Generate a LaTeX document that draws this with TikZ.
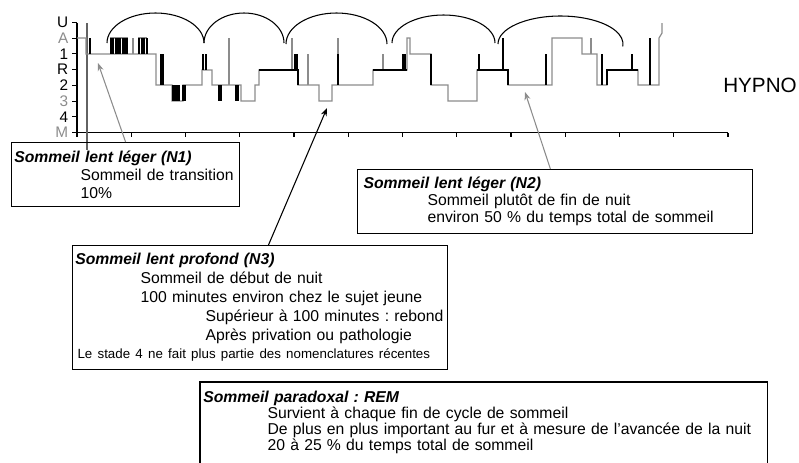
\documentclass[tikz,border=0pt]{standalone}
\usepackage{fontspec}
\setmainfont{Liberation Sans}
\usetikzlibrary{arrows.meta}
\definecolor{hgray}{gray}{0.55}

\begin{document}
\frenchspacing
\begin{tikzpicture}[x=0.75pt,y=-0.75pt,
    box/.style={draw,line width=0.9pt,anchor=north west,align=left,inner xsep=2pt,inner ysep=0pt},
    trace/.style={hgray,line width=0.9pt},
    bar/.style={black,line width=0.8pt},
    remline/.style={black,line width=1.6pt},
    tip/.style={-{Stealth[length=6pt,width=4.5pt]},line width=0.8pt}]

        \useasboundingbox (0,0) rectangle (799,462);
        \clip (0,0) rectangle (799,462);

        % axes
        \draw[line width=0.8pt] (77,22.5) -- (77,132.5) -- (728,132.5);
        \foreach \lab/\col [count=\i from 0] in {U/black,A/hgray,1/black,R/black,2/black,3/hgray,4/black,M/hgray}{
            \draw[line width=0.8pt] (72,22.5+\i*15.71) -- (77,22.5+\i*15.71);
            \node[anchor=east,inner sep=0pt,text=\col,font=\fontsize{11.5}{12}\selectfont] (l\lab) at (68.5,22.5+\i*15.71) {\lab};
        }
        \foreach \k in {0,...,12}
            \draw[line width=0.8pt] (77+\k*54.25,132.5) -- (77+\k*54.25,137);

        % hypnogramme
        \draw[line width=0.8pt,hgray!70!black] (87,23) -- (87,150);
        \draw[trace] (77,38) -- (86,38) -- (86,54) -- (156,54) -- (156,85) -- (172,85) -- (172,101) -- (183,101) -- (183,85)
            -- (202,85) -- (202,70) -- (212,70) -- (212,85) -- (241,85) -- (241,101) -- (255,101) -- (255,85) -- (259,85)
            -- (259,70) -- (298,70) -- (298,85) -- (319,85) -- (319,101) -- (332,101) -- (332,85) -- (373,85) -- (373,70)
            -- (407,70) -- (407,38) -- (410,38) -- (410,54) -- (431,54) -- (431,85) -- (448,85) -- (448,101) -- (477,101)
            -- (477,70) -- (508,70) -- (508,85) -- (552,85) -- (552,38) -- (582,38) -- (582,54) -- (597,54) -- (597,85)
            -- (607,85) -- (607,70) -- (638,70) -- (638,85) -- (659,85) -- (659,38) -- (662,33) -- (662,23);
        \draw[trace] (110,38) -- (128,38) (138,38) -- (147,38) (133,38) -- (133,54) (229,38) -- (229,85)
            (292,38) -- (292,70) (308,54) -- (308,85) (338,38) -- (338,54) (383,54) -- (383,70) (591,38) -- (591,54);
        \foreach \x in {90,111,113,116,118,120,123,125,127,139,142,144,147}
            \draw[bar] (\x,38) -- (\x,54);
        \foreach \x in {161,163,338,431,546,602}
            \draw[bar] (\x,54) -- (\x,85);
        \foreach \x in {173,175,177,179,183,185,219,221,236,238}
            \draw[bar] (\x,85) -- (\x,101);
        \foreach \x in {203,206,295,297,403,405,479,632}
            \draw[bar] (\x,54) -- (\x,70);
        \draw[bar] (503,38) -- (503,70);
        \draw[bar] (650,38) -- (650,85);
        \draw[remline] (259,70) -- (298,70) -- (298,85);
        \draw[remline] (373,70) -- (407,70);
        \draw[remline] (477,70) -- (508,70) -- (508,85);
        \draw[remline] (607,85) -- (607,70) -- (638,70);

        % cycles
        \foreach \x/\y/\rx/\ry/\e in {107/43/48.5/30/360,204/43/40/30/360,286/44/50.5/31/360,392/43/51.5/28/360,498/44/62.5/28/365}
            \draw[line width=0.8pt] (\x,\y) arc[start angle=180,end angle=\e,x radius=\rx,y radius=\ry];

        \node[font=\fontsize{15.5}{18}\selectfont] (hypno) at (760,85) {HYPNO};

        % encadres
        \node[box,text width=167pt,minimum height=48pt,font=\fontsize{11.8}{13.5}\selectfont] (n1) at (11,142)
            {\textbf{\textit{Sommeil lent léger (N1)}}\\\hspace*{49.7pt}\mbox{Sommeil de transition}\\\hspace*{49.7pt}10\%};
        \node[box,text width=292pt,minimum height=48pt,font=\fontsize{11.8}{12.75}\selectfont] (n2) at (357,169)
            {\hspace*{2.5pt}\textbf{\textit{Sommeil lent léger (N2)}}\\\hspace*{50.5pt}\mbox{Sommeil plutôt de fin de nuit}\\
            \hspace*{50.5pt}\mbox{environ 50 \% du temps total de sommeil}};
        \node[box,text width=277pt,minimum height=93pt,font=\fontsize{11.8}{14.1}\selectfont] (n3) at (72,245)
            {\textbf{\textit{Sommeil lent profond (N3)}}\\\hspace*{49pt}\mbox{Sommeil de début de nuit}\\
            \hspace*{49pt}\mbox{100 minutes environ chez le sujet jeune}\\
            \hspace*{97.7pt}\mbox{Supérieur à 100 minutes : rebond}\\\hspace*{97.7pt}\mbox{Après privation ou pathologie}\\
            \hspace*{1.7pt}\mbox{\fontsize{10}{12}\selectfont Le stade 4 ne fait plus partie des nomenclatures récentes}};
        \node[box,draw=none,text width=420.5pt,inner ysep=6pt,font=\fontsize{11.8}{12}\selectfont] (rem) at (200,382)
            {\textbf{\textit{Sommeil paradoxal : REM}}\\\hspace*{48.2pt}\mbox{Survient à chaque fin de cycle de sommeil}\\
            \hspace*{48.2pt}\mbox{De plus en plus important au fur et à mesure de l’avancée de la nuit}\\
            \hspace*{48.2pt}\mbox{20 à 25 \% du temps total de sommeil}};
        \draw[line width=0.9pt] ([yshift=-80pt]rem.north west) -- (rem.north west) -- (rem.north east) -- ([yshift=-80pt]rem.north east);

        % fleches
        \coordinate (n1tip) at (98,63);
        \coordinate (n3tip) at (327,108);
        \coordinate (n2tip) at (525,92);
        \draw[tip,hgray] (n1.north) -- (n1tip);
        \draw[tip] ([xshift=6.4pt]n3.north) -- (n3tip);
        \draw[tip,hgray] ([xshift=-3.4pt]n2.north) -- (n2tip);

\end{tikzpicture}
\end{document}
